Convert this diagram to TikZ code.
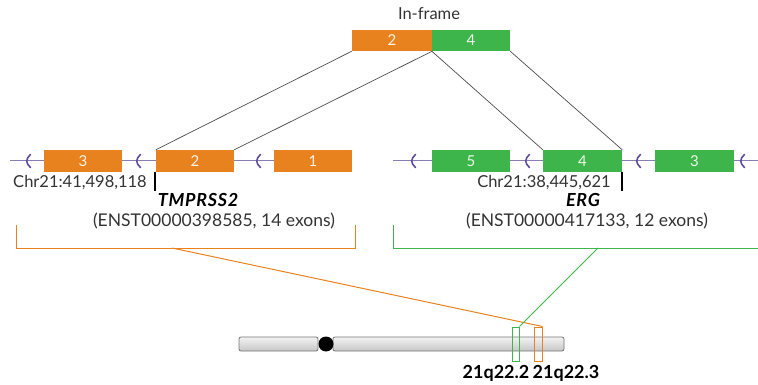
\documentclass[tikz,border=0pt]{standalone}
\usepackage{fontspec}
\setmainfont{Lato}
\definecolor{exo}{HTML}{E8821E}
\definecolor{exg}{HTML}{3DB54A}
\definecolor{chev}{HTML}{5E4C9E}
\definecolor{bbone}{HTML}{8A7DB2}
\tikzset{
  exonO/.style={fill=exo, draw=none, minimum height=22pt, inner sep=0pt, text=white!90!exo, font=\fontsize{15}{15}\selectfont},
  exonG/.style={fill=exg, draw=none, minimum height=22pt, inner sep=0pt, text=white!90!exg, font=\fontsize{15}{15}\selectfont},
  conn/.style={draw=black!70, line width=0.7pt},
  backbone/.style={draw=bbone, line width=1pt},
  chevron/.style={draw=chev, line width=1.6pt, line cap=round},
  tickmark/.style={draw=black, line width=1.6pt},
  lbl/.style={inner sep=0pt, text=black!80, font=\fontsize{16.5}{17}\selectfont},
  enst/.style={inner sep=0pt, text=black!80, font=\fontsize{17.5}{18}\selectfont},
  gene/.style={inner sep=0pt, font=\fontsize{18}{18}\selectfont\bfseries\itshape\addfontfeatures{LetterSpace=4}},
  band/.style={font=\fontsize{18}{18}\selectfont\bfseries, inner sep=0pt},
  arm/.style={draw=black!55, line width=0.8pt, rounded corners=2pt, top color=white!95!black, bottom color=black!22},
}
\begin{document}
\begin{tikzpicture}[x=1pt,y=-1pt]
\useasboundingbox (0,0) rectangle (758,385);
% top fused
\node[lbl] (inframe) at (429,14) {In-frame};
\node[exonO, minimum width=80pt, minimum height=21pt] (top2) at (392,40.5) {2};
\node[exonG, minimum width=78pt, minimum height=21pt] (top4) at (471,40.5) {4};
% backbones
\coordinate (tl) at (10,161);
\coordinate (tr) at (352,161);
\coordinate (el) at (393,161);
\coordinate (er) at (758,161);
\draw[backbone] (tl) -- (tr);
\draw[backbone] (el) -- (er);
% TMPRSS2 exons
\node[exonO, minimum width=78pt] (t3) at (83,161) {3};
\node[exonO, minimum width=78pt] (t2) at (195,161) {2};
\node[exonO, minimum width=78pt] (t1) at (313,161) {1};
% ERG exons
\node[exonG, minimum width=78pt] (e5) at (471,161) {5};
\node[exonG, minimum width=79pt] (e4) at (582.5,161) {4};
\node[exonG, minimum width=79pt] (e3) at (694.5,161) {3};
% chevrons
\foreach \x in {28,138,258,413,527,638,742}{
  \draw[chevron] (\x+2.5,154.5) .. controls (\x-2.5,159) and (\x-2.5,163) .. (\x+2.5,167.5);
}
% connectors
\draw[conn] (top2.south west) -- (t2.north west);
\draw[conn] (top2.south east) -- (t2.north east);
\draw[conn] (top4.south west) -- (e4.north west);
\draw[conn] (top4.south east) -- (e4.north east);
% breakpoints
\coordinate (bp1a) at (155,172);
\coordinate (bp1b) at (155,191);
\coordinate (bp2a) at (622,172);
\coordinate (bp2b) at (622,191);
\draw[tickmark] (bp1a) -- (bp1b);
\draw[tickmark] (bp2a) -- (bp2b);
\node[lbl, anchor=east] (chr1) at (147,183) {Chr21:41,498,118};
\node[lbl, anchor=east] (chr2) at (611,183) {Chr21:38,445,621};
\node[gene] (g1) at (198,200) {TMPRSS2};
\node[gene] (g2) at (583,200) {ERG};
\node[enst] (n1) at (214,221) {(ENST00000398585, 14 exons)};
\node[enst] (n2) at (587,221) {(ENST00000417133, 12 exons)};
% brackets
\coordinate (bo1) at (16,225);
\coordinate (bo2) at (16,248);
\coordinate (bo3) at (355,248);
\coordinate (bo4) at (355,225);
\coordinate (bom) at (172,248);
\draw[exo, line width=1pt] (bo1) -- (bo2) -- (bo3) -- (bo4);
\coordinate (bg1) at (393,225);
\coordinate (bg2) at (393,248);
\coordinate (bg3) at (758,248);
\coordinate (bgm) at (598,248);
\draw[exg, line width=1pt] (bg1) -- (bg2) -- (bg3);
% chromosome
\node[arm, minimum width=79pt, minimum height=14pt, inner sep=0pt] (armp) at (278.5,344) {};
\node[arm, minimum width=231pt, minimum height=14pt, inner sep=0pt] (armq) at (448.5,344) {};
\node[circle, fill=black, minimum size=15pt, inner sep=0pt] (cen) at (326,344) {};
\node[draw=exg, line width=1pt, minimum width=7pt, minimum height=34pt, inner sep=0pt] (bandg) at (515.5,344) {};
\node[draw=exo, line width=1pt, minimum width=8pt, minimum height=34pt, inner sep=0pt] (bando) at (538,344) {};
\draw[exo, line width=1pt] (bom) -- (bando.north east);
\draw[exg, line width=1pt] (bgm) -- (bandg.north east);
\node[band] (l1) at (496,373) {21q22.2};
\node[band] (l2) at (566,373) {21q22.3};
\end{tikzpicture}
\end{document}
